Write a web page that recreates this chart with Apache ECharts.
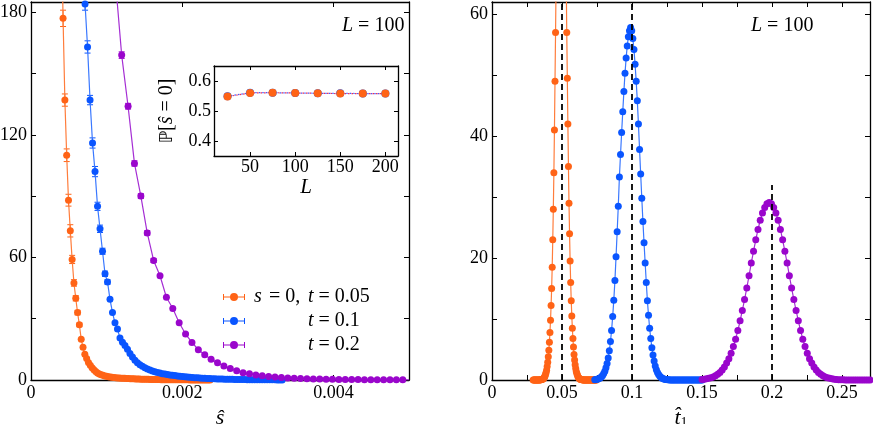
<!DOCTYPE html>
<html>
<head>
<meta charset="utf-8">
<script src="https://cdn.jsdelivr.net/npm/echarts@6/dist/echarts.min.js"></script>
<style>
html, body { margin: 0; padding: 0; background: #fff; }
#main { width: 873px; height: 424px; }
</style>
</head>
<body>
<div id="main"></div>
<script>
// ---- left panel: histogram of s-hat (bin start, bin width, heights) ----
var sOrangeStart = 0.0004, sOrangeStep = 0.000024;
var sOrange = [230, 177, 137, 110, 88, 73, 59, 47.5, 40, 33,
    27, 20, 16, 12.6, 10.5, 8.6, 7.2, 6.0, 5.0, 4.2,
    3.4, 2.9, 2.6, 2.3, 2.0, 1.8, 1.6, 1.45, 1.3, 1.2,
    1.1, 1.0, 0.95, 0.9, 0.85, 0.8, 0.75, 0.7, 0.65, 0.6,
    0.56, 0.52, 0.48, 0.45, 0.42, 0.39, 0.36, 0.33, 0.31, 0.29,
    0.27, 0.25, 0.23, 0.21, 0.2, 0.18, 0.17, 0.16, 0.15, 0.14,
    0.13, 0.12, 0.11, 0.1, 0.1, 0.09, 0.09, 0.08, 0.08, 0.07,
    0.07, 0.06, 0.06, 0.06, 0.05, 0.05, 0.05, 0.04, 0.04, 0.04,
    0.03, 0.03, 0.03];
var sOrangeErr = [0, 4, 3, 3.1, 2.9, 3, 2, 1.6, 1.3, 1.1, 0.9];

var sBlueStart = 0.000682, sBlueStep = 0.000033;
var sBlue = [215, 184, 163, 137, 116, 102, 85, 74, 63, 52,
    48, 39.5, 33, 28, 25, 20.5, 18.5, 16.9, 15, 13,
    11.2, 9.7, 8.5, 7.5, 6.7, 6.0, 5.4, 4.9, 4.4, 4.0,
    3.7, 3.4, 3.1, 2.9, 2.7, 2.5, 2.3, 2.15, 2.0, 1.85,
    1.7, 1.6, 1.45, 1.35, 1.25, 1.15, 1.05, 0.97, 0.9, 0.83,
    0.76, 0.7, 0.64, 0.59, 0.54, 0.5, 0.46, 0.42, 0.38, 0.35,
    0.32, 0.29, 0.27, 0.24, 0.22, 0.2, 0.18, 0.17, 0.15, 0.14,
    0.13, 0.12, 0.11, 0.1, 0.09, 0.08, 0.07, 0.07, 0.06, 0.06,
    0.05];
var sBlueErr = [0, 3, 3, 2.3, 2.5, 2.5, 2, 1.8, 1.5, 1.3, 1.1];

var sPurpleStart = 0.001115, sPurpleStep = 0.0000845;
var sPurple = [196, 159, 134, 106, 90, 72, 58.5, 51, 40.5, 35,
    28, 22.5, 18.4, 14.8, 12.3, 10.2, 8.5, 6.9, 5.6, 4.5,
    3.6, 3.0, 2.5, 2.1, 1.75, 1.45, 1.2, 1.0, 0.85, 0.72,
    0.62, 0.53, 0.46, 0.4, 0.35, 0.3, 0.26, 0.23, 0.2, 0.18,
    0.16, 0.14, 0.12, 0.11, 0.1, 0.09, 0.08];
var sPurpleErr = [0, 1.6, 1.4, 1.3, 1.2, 1.1, 1.0];

// ---- inset: P[s-hat = 0] against L ----
var insetL = [25, 50, 75, 100, 125, 150, 175, 200];
var insetBlue = [0.549, 0.561, 0.561, 0.560, 0.559, 0.559, 0.558, 0.558];
var insetOrange = [0.548, 0.560, 0.561, 0.560, 0.559, 0.558, 0.558, 0.558];

// ---- right panel: histogram of t1-hat ----
var tOrangeStart = 0.0294, tOrangeStep = 0.0004;
var tOrange = [0, 0, 0, 0, 0, 0, 0, 0, 0, 0, 0,
    0.01, 0.02, 0.03, 0.05, 0.07, 0.1, 0.15, 0.2, 0.3, 0.45,
    0.6, 0.9, 1.2, 1.6, 2.2, 2.9, 3.8, 4.9, 6.2, 7.8,
    9.8, 12.2, 15, 18.5, 23, 28, 34, 41, 49, 57,
    66, 76, 86, 96, 106, 115, 123, 129, 133, 135,
    133, 129, 123, 115, 106, 96, 86, 76, 66, 57,
    49.5, 42, 35, 29, 24, 19.5, 16, 13, 10.5, 8.5,
    6.8, 5.4, 4.2, 3.3, 2.5, 1.9, 1.4, 1.05, 0.8, 0.55,
    0.4, 0.3, 0.2, 0.14, 0.1, 0.07, 0.05, 0.03, 0.02, 0.01,
    0, 0, 0, 0, 0, 0, 0, 0, 0, 0, 0, 0,
    0, 0, 0, 0, 0, 0, 0, 0, 0, 0, 0];

var tBlueStart = 0.0734, tBlueStep = 0.0008;
var tBlue = [0.05, 0.07, 0.11, 0.17, 0.25, 0.36, 0.52, 0.75, 1.05, 1.45,
    2.0, 2.7, 3.6, 4.8, 6.3, 8.1, 10.4, 13.1, 16.3, 20.2,
    24.3, 28.5, 33.3, 37.0, 40.6, 44.0, 47.3, 50.3, 52.8, 54.8,
    56.3, 57.3, 57.8,
    57.3, 56.0, 54.2, 51.8, 49.0, 45.8, 42.0, 37.8, 33.8, 29.8,
    26.0, 22.5, 19.2, 16.0, 13.0, 10.6, 8.5, 6.8, 5.3, 4.1,
    3.1, 2.3, 1.7, 1.25, 0.9, 0.65, 0.45, 0.32, 0.22, 0.15,
    0.1, 0.07, 0.05, 0.03, 0.02, 0.02, 0.01, 0.01, 0.01,
    0, 0, 0, 0, 0, 0, 0, 0, 0, 0, 0, 0, 0,
    0, 0, 0, 0, 0, 0, 0, 0, 0, 0, 0, 0];

var tPurpleStart = 0.150, tPurpleStep = 0.0016;
var tPurple = [0.09, 0.13, 0.19, 0.27, 0.37, 0.5, 0.7, 0.93, 1.25, 1.65,
    2.15, 2.8, 3.5, 4.4, 5.5, 6.7, 8.1, 9.7, 11.4, 13.2,
    15.1, 17.1, 19.2, 21.1, 23.0, 24.7, 26.2, 27.4, 28.3, 28.9,
    29.1,
    28.9, 28.3, 27.4, 26.2, 24.7, 23.0, 21.1, 19.2, 17.1, 15.1,
    13.2, 11.4, 9.7, 8.1, 6.7, 5.5, 4.4, 3.5, 2.8, 2.15,
    1.65, 1.25, 0.93, 0.7, 0.5, 0.37, 0.27, 0.19, 0.13, 0.09,
    0.06, 0.04, 0.03, 0.02, 0.01, 0.01, 0, 0, 0, 0,
    0, 0, 0, 0, 0];

// dashed reference lines: true t values and line heights
var tRefX = [0.05, 0.1, 0.2];
var tRefTop = [70, 70, 32];

var legendNames = ['s = 0, t = 0.05', 't = 0.1', 't = 0.2'];

var FONT = "'Liberation Serif', 'DejaVu Serif', serif";
var ORANGE = '#ff6316', BLUE = '#0a55ff', PURPLE = '#9a06cc';
var ORANGE_L = '#ff7d3c', BLUE_L = '#3a78ff', PURPLE_L = '#a52ed4';

function bins(start, step, ys) {
    return ys.map(function (y, i) { return [+(start + step * i).toFixed(8), y]; });
}
function errs(start, step, ys, es) {
    return es.map(function (e, i) { return [+(start + step * i).toFixed(8), ys[i], e]; });
}
function every(step, dec) {
    return function (v) {
        var k = Math.round(v / step);
        return Math.abs(v - k * step) < step * 1e-6 ? String(+(k * step).toFixed(dec)) : '';
    };
}

function axis(o) {
    var a = {
        type: 'value',
        gridIndex: o.grid,
        position: o.pos,
        min: o.min,
        max: o.max,
        axisLine: { show: true, onZero: false, lineStyle: { color: '#000', width: 1.3 } },
        axisTick: { show: true, inside: true, length: o.tick || 5, lineStyle: { color: '#000', width: 1 } },
        splitLine: { show: false },
        axisLabel: {
            show: !!o.fmt, formatter: o.fmt, margin: o.margin || 4,
            color: '#000', fontFamily: FONT, fontSize: 18
        },
        z: 3
    };
    if (o.interval) a.interval = o.interval;
    if (o.fixed) { a.minInterval = o.fixed; a.maxInterval = o.fixed; }
    if (o.name) {
        a.name = o.name;
        a.nameLocation = 'middle';
        a.nameGap = o.nameGap;
        if (o.nameRotate) a.nameRotate = o.nameRotate;
        a.nameTextStyle = {
            color: '#000', fontFamily: FONT, fontSize: o.nameSize || 21,
            fontStyle: o.italic ? 'italic' : 'normal',
            rich: {
                i: { fontFamily: FONT, fontSize: o.nameSize || 21, fontStyle: 'italic', color: '#000' },
                n: { fontFamily: FONT, fontSize: o.nameSize || 21, color: '#000' },
                b: { fontFamily: "'DejaVu Sans', sans-serif", fontSize: (o.nameSize || 21) - 2, color: '#000' },
                sub: { fontFamily: FONT, fontSize: 14, color: '#000', verticalAlign: 'bottom', padding: [10, 0, 0, 0] }
            }
        };
    }
    return a;
}

function errorBar(params, api) {
    var x = api.value(0), y = api.value(1), e = api.value(2);
    if (!e) return null;
    var hi = api.coord([x, y + e]);
    var lo = api.coord([x, y - e]);
    var c = api.visual('color');
    var hw = 3;
    var st = { stroke: c, lineWidth: 1 };
    return {
        type: 'group',
        children: [
            { type: 'line', shape: { x1: hi[0], y1: hi[1], x2: lo[0], y2: lo[1] }, style: st },
            { type: 'line', shape: { x1: hi[0] - hw, y1: hi[1], x2: hi[0] + hw, y2: hi[1] }, style: st },
            { type: 'line', shape: { x1: lo[0] - hw, y1: lo[1], x2: lo[0] + hw, y2: lo[1] }, style: st }
        ]
    };
}

function curve(name, xi, yi, data, color, lineColor, size) {
    return {
        name: name, type: 'line', xAxisIndex: xi, yAxisIndex: yi,
        data: data, symbol: 'circle', symbolSize: size, showSymbol: true,
        itemStyle: { color: color },
        lineStyle: { color: lineColor, width: 1.2 },
        clip: true, silent: true, z: 3
    };
}
function errSeries(name, data, color) {
    return {
        name: name, type: 'custom', xAxisIndex: 0, yAxisIndex: 0,
        renderItem: errorBar, data: data, clip: true, silent: true,
        itemStyle: { color: color }, z: 2
    };
}

var series = [
    errSeries('errO', errs(sOrangeStart, sOrangeStep, sOrange, sOrangeErr), ORANGE),
    errSeries('errB', errs(sBlueStart, sBlueStep, sBlue, sBlueErr), BLUE),
    errSeries('errP', errs(sPurpleStart, sPurpleStep, sPurple, sPurpleErr), PURPLE),
    curve(legendNames[0], 0, 0, bins(sOrangeStart, sOrangeStep, sOrange), ORANGE, ORANGE_L, 7),
    curve(legendNames[1], 0, 0, bins(sBlueStart, sBlueStep, sBlue), BLUE, BLUE_L, 7),
    curve(legendNames[2], 0, 0, bins(sPurpleStart, sPurpleStep, sPurple), PURPLE, PURPLE_L, 7),
    {
        name: 'insetBlue', type: 'line', xAxisIndex: 2, yAxisIndex: 2,
        data: insetL.map(function (l, i) { return [l, insetBlue[i]]; }),
        symbol: 'circle', symbolSize: 8, itemStyle: { color: BLUE },
        lineStyle: { color: '#4a5cff', width: 1.2, type: [1.5, 2] }, silent: true, z: 4
    },
    {
        name: 'insetOrange', type: 'line', xAxisIndex: 2, yAxisIndex: 2,
        data: insetL.map(function (l, i) { return [l, insetOrange[i]]; }),
        symbol: 'circle', symbolSize: 8, itemStyle: { color: ORANGE },
        lineStyle: { color: '#e8305a', width: 1.2, type: [1.5, 2], dashOffset: 1.7 }, silent: true, z: 4
    },
    curve('tO', 4, 4, bins(tOrangeStart, tOrangeStep, tOrange), ORANGE, ORANGE_L, 7),
    curve('tB', 4, 4, bins(tBlueStart, tBlueStep, tBlue), BLUE, BLUE_L, 7),
    curve('tP', 4, 4, bins(tPurpleStart, tPurpleStep, tPurple), PURPLE, PURPLE_L, 7)
];
tRefX.forEach(function (x, i) {
    series.push({
        name: 'ref' + i, type: 'line', xAxisIndex: 4, yAxisIndex: 4,
        data: [[x, 0], [x, tRefTop[i]]], symbol: 'none', silent: true, clip: true, z: 5,
        lineStyle: { color: '#000', width: 1.8, type: [6, 4] }
    });
});

var chart = echarts.init(document.getElementById('main'), null, { renderer: 'canvas' });
chart.setOption({
    animation: false,
    backgroundColor: '#fff',
    grid: [
        { left: 31, top: 2, width: 378, height: 378, outerBoundsMode: 'none' },
        { left: 214, top: 66, width: 184, height: 90, outerBoundsMode: 'none' },
        { left: 492, top: 2, width: 378, height: 378, outerBoundsMode: 'none' }
    ],
    xAxis: [
        axis({ grid: 0, pos: 'bottom', min: 0, max: 0.005, interval: 0.002, fmt: every(0.002, 3),
            name: 'ŝ', nameGap: 12, italic: true, nameSize: 22 }),
        axis({ grid: 0, pos: 'top', min: 0, max: 0.005, interval: 0.002 }),
        axis({ grid: 1, pos: 'bottom', min: 10, max: 214, fixed: 50, fmt: every(50, 0), tick: 4, margin: 2,
            name: 'L', nameGap: 10, italic: true, nameSize: 21 }),
        axis({ grid: 1, pos: 'top', min: 10, max: 214, fixed: 50, tick: 4 }),
        axis({ grid: 2, pos: 'bottom', min: 0, max: 0.27, interval: 0.025, fmt: every(0.05, 2),
            name: '{i|t\u0302}{sub|1}', nameGap: 10, nameSize: 22 }),
        axis({ grid: 2, pos: 'top', min: 0, max: 0.27, interval: 0.025 })
    ],
    yAxis: [
        axis({ grid: 0, pos: 'left', min: 0, max: 185, interval: 30, fmt: every(60, 0) }),
        axis({ grid: 0, pos: 'right', min: 0, max: 185, interval: 30 }),
        axis({ grid: 1, pos: 'left', min: 0.35, max: 0.65, fixed: 0.1, fmt: every(0.1, 1), tick: 4, margin: 3,
            name: '{b|ℙ}{n|[}{i|ŝ}{n| = 0]}', nameGap: 37, nameRotate: 90, nameSize: 20 }),
        axis({ grid: 1, pos: 'right', min: 0.35, max: 0.65, fixed: 0.1, tick: 4 }),
        axis({ grid: 2, pos: 'left', min: 0, max: 62, interval: 10, fmt: every(20, 0) }),
        axis({ grid: 2, pos: 'right', min: 0, max: 62, interval: 10 })
    ],
    legend: {
        data: legendNames,
        orient: 'vertical',
        left: 218,
        top: 282,
        itemWidth: 30,
        itemHeight: 8,
        itemGap: 4,
        selectedMode: false,
        icon: 'path://M0,4.5h22v1h-22z M0,2h1v6h-1z M21,2h1v6h-1z M15,5a4,4 0 1,1 -8,0a4,4 0 1,1 8,0z',
        textStyle: {
            color: '#000', fontFamily: FONT, fontSize: 20,
            rich: {
                s: { fontFamily: FONT, fontSize: 20, fontStyle: 'italic', width: 10, color: '#000' },
                r: { fontFamily: FONT, fontSize: 20, width: 44, color: '#000' },
                pad: { fontFamily: FONT, fontSize: 20, width: 54 },
                t: { fontFamily: FONT, fontSize: 20, fontStyle: 'italic', color: '#000' },
                n: { fontFamily: FONT, fontSize: 20, color: '#000' }
            }
        },
        formatter: function (name) {
            if (name === legendNames[0]) return '{s|s}{r| = 0, }{t|t}{n| = 0.05}';
            return '{pad| }{t|t}{n|' + name.slice(1) + '}';
        }
    },
    graphic: [
        { type: 'text', left: 342, top: 16, z: 10,
          style: { text: '{i|L} = 100', font: '20px ' + FONT, fill: '#000',
                   rich: { i: { fontStyle: 'italic', fontFamily: FONT, fontSize: 20 } } } },
        { type: 'text', left: 751, top: 16, z: 10,
          style: { text: '{i|L} = 100', font: '20px ' + FONT, fill: '#000',
                   rich: { i: { fontStyle: 'italic', fontFamily: FONT, fontSize: 20 } } } }
    ],
    series: series
});
</script>
</body>
</html>
